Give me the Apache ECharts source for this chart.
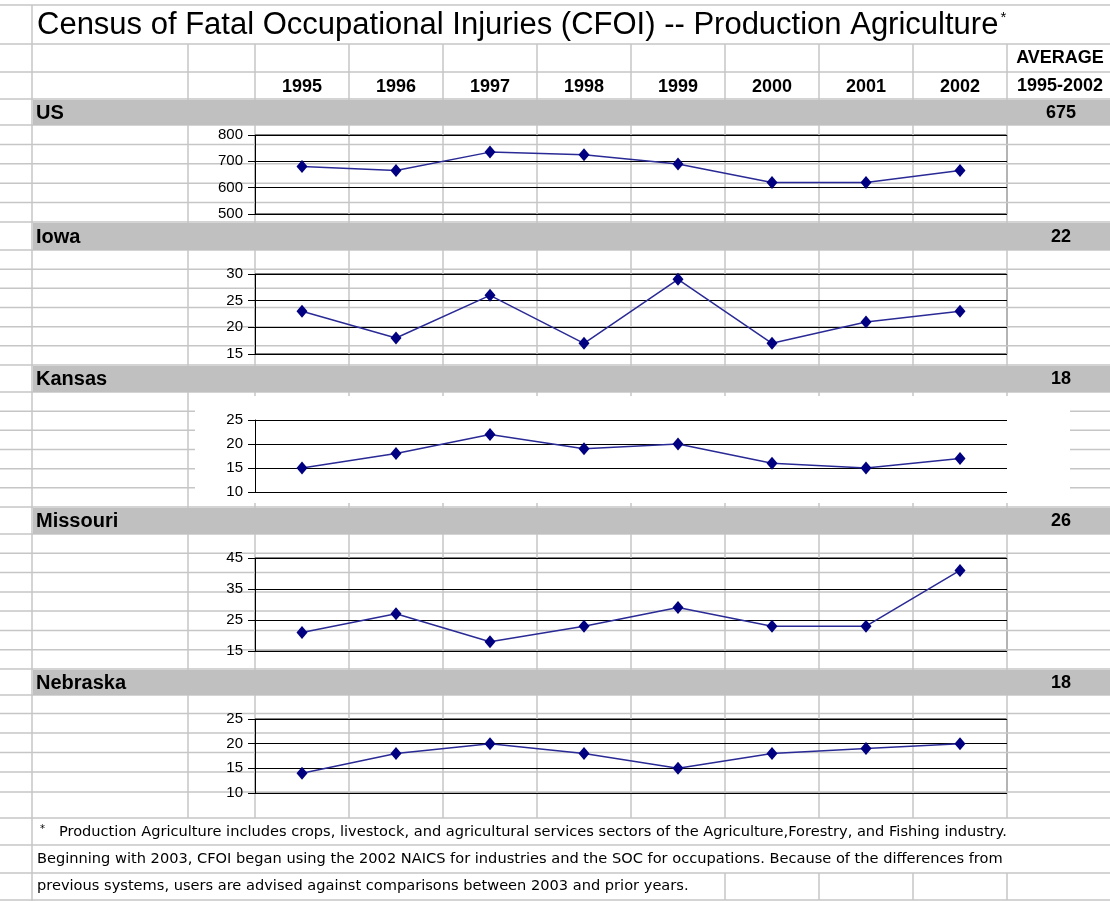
<!DOCTYPE html>
<html>
<head>
<meta charset="utf-8">
<script src="https://cdn.jsdelivr.net/npm/echarts@6/dist/echarts.min.js"></script>
<style>
html,body{margin:0;padding:0;background:#fff;}
#c{width:1110px;height:901px;}
</style>
</head>
<body>
<div id="c"></div>
<script>
// ---------------- data ----------------
const years = ['1995', '1996', '1997', '1998', '1999', '2000', '2001', '2002'];
const regions = ['US', 'Iowa', 'Kansas', 'Missouri', 'Nebraska'];
const usValues = [680, 665, 735, 725, 690, 620, 620, 665];
const iowaValues = [23, 18, 26, 17, 29, 17, 21, 23];
const kansasValues = [15, 18, 22, 19, 20, 16, 15, 17];
const missouriValues = [21, 27, 18, 23, 29, 23, 23, 41];
const nebraskaValues = [14, 18, 20, 18, 15, 18, 19, 20];
const averages = [675, 22, 18, 26, 18];
const yMins = [500, 15, 10, 15, 10];
const yMaxs = [800, 30, 25, 45, 25];
const yIntervals = [100, 5, 5, 10, 5];
const titleText = 'Census of Fatal Occupational Injuries (CFOI) -- Production Agriculture';
const avgHeader = ['AVERAGE', '1995-2002'];
const footnoteLines = [
  'Production Agriculture includes crops, livestock, and agricultural services sectors of the Agriculture,Forestry, and Fishing industry.',
  'Beginning with 2003, CFOI began using the 2002 NAICS for industries and the SOC for occupations. Because of the differences from',
  'previous systems, users are advised against comparisons between 2003 and prior years.'
];
const seriesValues = [usValues, iowaValues, kansasValues, missouriValues, nebraskaValues];

// ---------------- layout ----------------
const W = 1110;
const PLOT_L = 255, PLOT_R = 1007;
const plots = [
  {top: 135, bottom: 214},
  {top: 274, bottom: 354},
  {top: 420, bottom: 492},
  {top: 558, bottom: 651},
  {top: 719, bottom: 793}
];
const bars = [[99, 125], [222, 250], [365, 392], [507, 534], [669, 695]];
const rowLines = [5, 44, 72, 99, 125, 144.4, 163.8, 183.2, 202.6, 222, 250, 269.2, 288.3, 307.5, 326.7, 345.8, 365,
  392, 411.2, 430.3, 449.5, 468.7, 487.8, 507, 534, 553.3, 572.6, 591.9, 611.1, 630.4, 649.7, 669,
  695, 713.5, 733, 752.5, 772, 792, 818, 845, 873, 900];
const colLines = [32, 188, 255, 349, 443, 537, 631, 725, 819, 913, 1007];
const GRID_COLOR = '#c6c6c6';
const SANS = '"Liberation Sans", Arial, sans-serif';
const WIDE = '"DejaVu Sans", Verdana, sans-serif';

const graphics = [];
function hline(y, x1, x2) {
  graphics.push({type: 'line', z: 0, silent: true,
    shape: {x1: x1, y1: y, x2: x2, y2: y},
    style: {stroke: GRID_COLOR, lineWidth: 1.5}});
}
function vline(x, y1, y2) {
  graphics.push({type: 'line', z: 0, silent: true,
    shape: {x1: x, y1: y1, x2: x, y2: y2},
    style: {stroke: GRID_COLOR, lineWidth: 1.5}});
}
rowLines.forEach(y => hline(y, 0, W));
vline(colLines[0], 5, 901);
colLines.slice(1).forEach(x => vline(x, 44, 818));
colLines.slice(1).filter(x => x > 700).forEach(x => vline(x, 873, 900));
// grey section bars
bars.forEach(b => {
  graphics.push({type: 'rect', z: 0, silent: true,
    shape: {x: colLines[0] + 1, y: b[0] + 1, width: W - colLines[0], height: b[1] - b[0] - 1},
    style: {fill: '#c0c0c0'}});
});
// white background of the Kansas chart object
graphics.push({type: 'rect', z: 0, silent: true,
  shape: {x: 195, y: 396, width: 875, height: 107},
  style: {fill: '#ffffff'}});

// texts
graphics.push({type: 'text', z: 10, left: 37, top: 10,
  style: {text: '{a|' + titleText + '}{b|*}',
    rich: {a: {fontSize: 31, fontFamily: SANS, fill: '#000'},
           b: {fontSize: 15, fontFamily: SANS, fill: '#000', verticalAlign: 'top', padding: [0, 0, 0, 2]}}}});
avgHeader.forEach((t, i) => {
  graphics.push({type: 'text', z: 10, x: 1060, y: i === 0 ? 58 : 86,
    style: {text: t, fontSize: 18, fontWeight: 'bold', fontFamily: SANS, fill: '#000',
      textAlign: 'center', textVerticalAlign: 'middle'}});
});
regions.forEach((r, i) => {
  const cy = (bars[i][0] + bars[i][1]) / 2 + 1;
  graphics.push({type: 'text', z: 10, x: 36, y: cy,
    style: {text: r, fontSize: 20, fontWeight: 'bold', fontFamily: SANS, fill: '#000',
      textAlign: 'left', textVerticalAlign: 'middle'}});
  graphics.push({type: 'text', z: 10, x: 1061, y: cy,
    style: {text: String(averages[i]), fontSize: 18, fontWeight: 'bold', fontFamily: SANS, fill: '#000',
      textAlign: 'center', textVerticalAlign: 'middle'}});
});
const footY = [832, 859, 886];
footnoteLines.forEach((t, i) => {
  graphics.push({type: 'text', z: 10, x: i === 0 ? 40 : 37, y: footY[i],
    style: {text: i === 0 ? '{s|*}   ' + t : t,
      rich: {s: {fontSize: 10, fontFamily: WIDE, fill: '#000', verticalAlign: 'top'}},
      fontSize: 14.6, fontFamily: WIDE, fill: '#000',
      textAlign: 'left', textVerticalAlign: 'middle'}});
});

// ---------------- chart ----------------
const chart = echarts.init(document.getElementById('c'), null, {renderer: 'canvas'});
const option = {
  animation: false,
  backgroundColor: '#ffffff',
  graphic: {elements: graphics},
  grid: plots.map(p => ({
    left: PLOT_L, width: PLOT_R - PLOT_L, top: p.top, height: p.bottom - p.top,
    show: true, borderColor: '#000', borderWidth: 1, backgroundColor: 'transparent', containLabel: false
  })),
  xAxis: plots.map((p, i) => ({
    type: 'category', gridIndex: i, data: years, boundaryGap: true,
    position: i === 0 ? 'top' : 'bottom',
    axisLine: {show: false}, axisTick: {show: false}, splitLine: {show: false},
    axisLabel: i === 0
      ? {show: true, margin: 39, fontSize: 18, fontWeight: 'bold', color: '#000', fontFamily: SANS, interval: 0}
      : {show: false}
  })),
  yAxis: plots.map((p, i) => ({
    type: 'value', gridIndex: i, min: yMins[i], max: yMaxs[i], interval: yIntervals[i],
    axisLine: {show: true, lineStyle: {color: '#000', width: 1}},
    axisTick: {show: true, length: 7, lineStyle: {color: '#000', width: 1}},
    axisLabel: {margin: 12, fontSize: 15, color: '#000', fontFamily: SANS},
    splitLine: {show: true, lineStyle: {color: '#000', width: 1}}
  })),
  series: seriesValues.map((vals, i) => ({
    type: 'line', xAxisIndex: i, yAxisIndex: i, data: vals,
    symbol: 'diamond', symbolSize: [11, 13],
    itemStyle: {color: '#000080'},
    lineStyle: {color: '#2a2a96', width: 1.5},
    z: 5
  }))
};
chart.setOption(option);
</script>
</body>
</html>
